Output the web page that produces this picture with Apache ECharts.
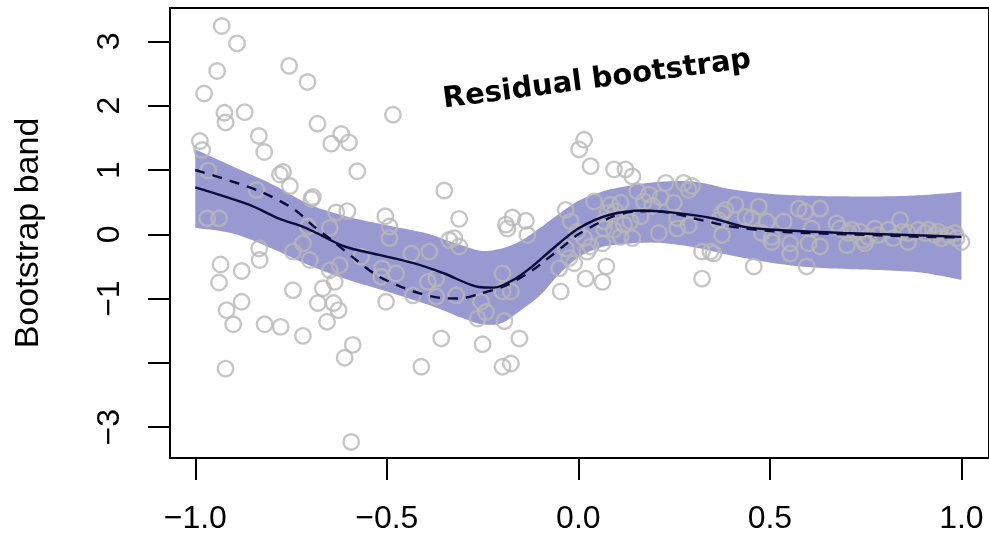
<!DOCTYPE html>
<html>
<head>
<meta charset="utf-8">
<script src="https://cdn.jsdelivr.net/npm/echarts@6/dist/echarts.min.js"></script>
<style>
  html, body { margin: 0; padding: 0; background: #fff; }
  #chart { width: 989px; height: 539px; }
</style>
</head>
<body>
<div id="chart"></div>
<script>
// observed points (x, y)
var pointX = [-0.931, -0.891, -0.943, -0.977, -0.755, -0.707, -0.924, -0.921, -0.871, -0.988,
  -0.982, -0.834, -0.820, -0.681, -0.484, -0.619, -0.645, -0.599, -0.577, -0.771,
  -0.779, -0.753, -0.966, -0.840, -0.693, -0.697, -0.632, -0.603, -0.504, -0.493,
  -0.969, -0.938, -0.706, -0.649, -0.350, -0.493, -0.719, -0.745, -0.701, -0.833,
  -0.832, -0.934, -0.938, -0.879, -0.649, -0.623, -0.636, -0.667, -0.745, -0.680,
  -0.639, -0.626, -0.656, -0.879, -0.918, -0.901, -0.819, -0.777, -0.719, -0.589,
  -0.610, -0.921, -0.593, -0.567, -0.512, -0.476, -0.515, -0.436, -0.389, -0.502,
  -0.432, -0.371, -0.393, -0.371, -0.358, -0.410, -0.337, -0.311, -0.172, -0.189,
  -0.137, 0.015, 0.002, 0.032, 0.093, 0.123, 0.141, -0.033, 0.041, 0.084,
  0.110, 0.097, 0.076, 0.067, 0.154, 0.184, 0.171, 0.193, 0.215, 0.228,
  0.275, 0.288, 0.297, 0.249, 0.258, 0.136, 0.163, -0.020, 0.119, -0.185,
  -0.133, -0.324, -0.311, -0.319, -0.198, -0.198, -0.176, -0.254, -0.241, -0.263,
  -0.193, -0.154, -0.250, -0.198, -0.176, -0.046, -0.050, -0.024, -0.033, -0.011,
  0.019, 0.063, 0.073, 0.015, 0.032, 0.023, 0.063, -0.003, 0.067, 0.110,
  0.141, 0.093, 0.210, 0.323, 0.323, 0.345, 0.375, 0.384, 0.366, 0.375,
  0.410, 0.436, 0.453, 0.471, 0.492, 0.479, 0.505, 0.505, 0.353, 0.458,
  0.536, 0.553, 0.553, 0.575, 0.592, 0.631, 0.609, 0.601, 0.631, 0.596,
  0.674, 0.683, 0.705, 0.701, 0.714, 0.735, 0.744, 0.757, 0.748, 0.774,
  0.783, 0.809, 0.822, 0.840, 0.844, 0.861, 0.861, 0.887, 0.905, 0.913,
  0.931, 0.939, 0.948, 0.965, 0.983, 0.987, 1.000, 0.258, 0.288];
var pointY = [3.24, 2.97, 2.54, 2.19, 2.62, 2.37, 1.89, 1.74, 1.90, 1.45,
  1.31, 1.53, 1.28, 1.72, 1.86, 1.56, 1.41, 1.43, 0.98, 0.97,
  0.93, 0.75, 0.99, 0.69, 0.58, 0.55, 0.34, 0.36, 0.28, 0.12,
  0.25, 0.25, 0.12, 0.10, 0.68, -0.06, -0.14, -0.27, -0.40, -0.22,
  -0.40, -0.47, -0.75, -0.57, -0.56, -0.48, -0.74, -0.84, -0.87, -1.07,
  -1.07, -1.18, -1.36, -1.05, -1.18, -1.40, -1.40, -1.44, -1.58, -1.72,
  -1.92, -2.09, -3.23, -0.35, -0.53, -0.61, -0.66, -0.30, -0.27, -1.05,
  -0.95, -0.97, -0.74, -0.69, -1.62, -2.06, -0.09, 0.24, 0.26, 0.15,
  0.21, 1.47, 1.32, 1.06, 1.01, 1.01, 0.90, 0.38, 0.51, 0.46,
  0.49, 0.36, 0.33, 0.20, 0.67, 0.62, 0.51, 0.44, 0.57, 0.80,
  0.80, 0.69, 0.75, 0.49, 0.25, 0.20, 0.28, 0.20, 0.15, 0.09,
  -0.01, -0.06, -0.19, -0.95, -0.61, -0.89, -0.89, -1.05, -1.21, -1.31,
  -1.35, -1.62, -1.71, -2.06, -2.01, -0.89, -0.53, -0.37, -0.22, -0.45,
  -0.69, -0.74, -0.50, -0.06, -0.19, -0.27, -0.14, 0.04, 0.09, -0.04,
  -0.06, 0.07, 0.02, -0.69, -0.27, -0.27, 0.33, 0.38, 0.22, -0.01,
  0.46, 0.27, 0.25, 0.43, 0.20, 0.02, -0.04, -0.12, -0.30, -0.50,
  0.20, -0.14, -0.30, 0.40, 0.35, 0.40, 0.09, -0.14, -0.19, -0.50,
  0.17, 0.09, 0.02, -0.17, 0.07, 0.04, -0.09, -0.04, -0.14, 0.09,
  -0.01, 0.07, -0.06, 0.22, 0.04, 0.02, -0.12, 0.07, 0.02, 0.07,
  -0.01, 0.04, -0.06, -0.01, 0.02, -0.06, -0.12, 0.09, 0.14];

// bootstrap band
var bandX = [-1, -0.9, -0.8, -0.7, -0.6, -0.5, -0.4, -0.35, -0.3, -0.25, -0.2, -0.15, -0.1,
  -0.05, 0, 0.05, 0.1, 0.2, 0.3, 0.4, 0.5, 0.6, 0.7, 0.8, 0.9, 1.0];
var bandUpper = [1.32, 1.05, 0.78, 0.46, 0.27, 0.14, 0.02, -0.08, -0.18, -0.26, -0.22, -0.10, 0.10,
  0.32, 0.52, 0.64, 0.72, 0.81, 0.82, 0.70, 0.63, 0.60, 0.59, 0.59, 0.61, 0.66];
var bandLower = [0.10, 0.01, -0.22, -0.49, -0.71, -0.89, -1.08, -1.19, -1.31, -1.40, -1.38, -1.18, -0.95,
  -0.62, -0.36, -0.22, -0.16, -0.13, -0.20, -0.33, -0.44, -0.51, -0.54, -0.56, -0.60, -0.71];

// fitted curve (solid) and true curve (dashed)
var fitX = [-1, -0.86, -0.78, -0.72, -0.69, -0.61, -0.52, -0.43, -0.35, -0.26, -0.22, -0.17, -0.12,
  -0.07, 0.0, 0.08, 0.17, 0.26, 0.35, 0.43, 0.51, 0.69, 0.86, 1.0];
var fitY = [0.73, 0.46, 0.24, 0.12, 0.04, -0.19, -0.32, -0.45, -0.61, -0.82, -0.83, -0.71, -0.50,
  -0.24, 0.09, 0.30, 0.37, 0.33, 0.25, 0.12, 0.07, 0.02, -0.01, -0.04];
var trueX = [-1, -0.84, -0.745, -0.69, -0.65, -0.58, -0.52, -0.43, -0.36, -0.31, -0.26, -0.19, -0.12,
  -0.085, -0.04, 0.0, 0.08, 0.14, 0.2, 0.26, 0.3, 0.4, 0.5, 0.6, 0.7, 0.8, 0.9, 1.0];
var trueY = [1.0, 0.69, 0.40, 0.12, -0.06, -0.40, -0.66, -0.89, -0.99, -1.0, -0.93, -0.80, -0.56,
  -0.40, -0.19, 0.0, 0.25, 0.35, 0.36, 0.31, 0.25, 0.12, 0.05, 0.02, 0.0, -0.02, -0.04, -0.05];

var xTicks = [-1, -0.5, 0, 0.5, 1];
var yTicks = [-3, -2, -1, 0, 1, 2, 3];
var yLabels = [-3, -1, 0, 1, 2, 3];

var lineColor = '#0c0c3c';
var font = '"Liberation Sans", Arial, Helvetica, sans-serif';

function minus(s) { return s.replace('-', '\u2212'); }

// smooth an open run of pixel points (Catmull-Rom) for drawing the band edge
function smoothEdge(pts, steps) {
    var out = [];
    for (var i = 0; i < pts.length - 1; i++) {
        var p0 = pts[Math.max(i - 1, 0)], p1 = pts[i], p2 = pts[i + 1], p3 = pts[Math.min(i + 2, pts.length - 1)];
        for (var s = 0; s < steps; s++) {
            var t = s / steps, t2 = t * t, t3 = t2 * t;
            out.push([0, 1].map(function (k) {
                return 0.5 * ((2 * p1[k]) + (-p0[k] + p2[k]) * t +
                    (2 * p0[k] - 5 * p1[k] + 4 * p2[k] - p3[k]) * t2 +
                    (-p0[k] + 3 * p1[k] - 3 * p2[k] + p3[k]) * t3);
            }));
        }
    }
    out.push(pts[pts.length - 1]);
    return out;
}

var chart = echarts.init(document.getElementById('chart'));

var points = pointX.map(function (x, i) { return [x, pointY[i]]; });

chart.setOption({
    animation: false,
    backgroundColor: '#fff',
    grid: {
        left: 170, right: -2, top: 8, bottom: 81,
        show: true, borderColor: '#000', borderWidth: 2, backgroundColor: 'transparent'
    },
    xAxis: {
        type: 'value', min: -1.066, max: 1.072,
        axisLine: {show: false, onZero: false},
        splitLine: {show: false},
        axisTick: {show: true, customValues: xTicks, length: 22, lineStyle: {color: '#000', width: 2}},
        axisLabel: {
            customValues: xTicks, margin: 45, fontSize: 32, color: '#000', fontFamily: font,
            formatter: function (v) { return minus(v.toFixed(1)); }
        }
    },
    yAxis: {
        type: 'value', min: -3.48, max: 3.52,
        name: 'Bootstrap band', nameLocation: 'middle', nameGap: 124, nameRotate: 90,
        nameTextStyle: {fontSize: 34, color: '#000', fontFamily: font},
        axisLine: {show: false, onZero: false},
        splitLine: {show: false},
        axisTick: {show: true, customValues: yTicks, length: 22, lineStyle: {color: '#000', width: 2}},
        axisLabel: {
            customValues: yLabels, rotate: 90, margin: 44, fontSize: 32, color: '#000', fontFamily: font,
            formatter: function (v) { return minus(String(v)); }
        }
    },
    graphic: [{
        type: 'text', x: 597, y: 80, rotation: 0.13,
        style: {
            text: 'Residual bootstrap', fill: '#000',
            font: 'bold 29px "DejaVu Sans", sans-serif',
            align: 'center', verticalAlign: 'middle'
        }
    }],
    series: [
        {
            type: 'scatter', data: points, symbol: 'circle', symbolSize: 15.5,
            itemStyle: {color: 'rgba(0,0,0,0)', borderColor: '#b8b8b8', borderWidth: 2.4}
        },
        {
            type: 'custom', data: [0], silent: true,
            renderItem: function (params, api) {
                var up = bandX.map(function (x, i) { return api.coord([x, bandUpper[i]]); });
                var lo = bandX.map(function (x, i) { return api.coord([x, bandLower[i]]); });
                var poly = smoothEdge(up, 8).concat(smoothEdge(lo, 8).reverse());
                return {
                    type: 'polygon', shape: {points: poly},
                    style: {fill: 'rgba(0,0,139,0.4)', stroke: null}
                };
            }
        },
        {
            type: 'line', data: fitX.map(function (x, i) { return [x, fitY[i]]; }),
            smooth: 0.3, symbol: 'none', lineStyle: {color: lineColor, width: 2.4}
        },
        {
            type: 'line', data: trueX.map(function (x, i) { return [x, trueY[i]]; }),
            smooth: 0.3, symbol: 'none', lineStyle: {color: lineColor, width: 2.4, type: [10, 8]}
        }
    ]
});
</script>
</body>
</html>
